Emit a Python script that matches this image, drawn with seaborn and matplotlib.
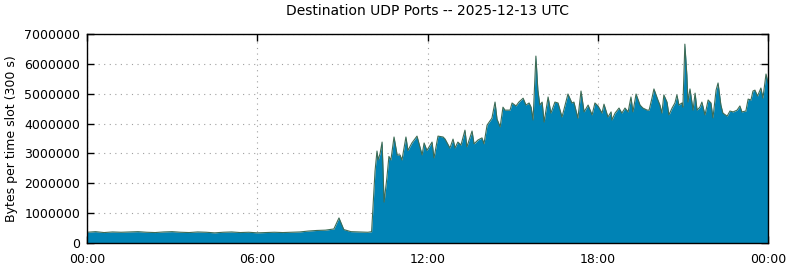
import matplotlib
matplotlib.use("Agg")
import matplotlib.pyplot as plt
import seaborn as sns
import numpy as np
import pandas as pd

# time of slot (hours since 00:00 UTC)
hours = [0.0, 0.3, 0.6, 0.9, 1.2, 1.5, 1.8, 2.1, 2.4, 2.7, 3.0, 3.3, 3.6, 3.9, 4.2, 4.5,
         4.8, 5.1, 5.4, 5.7, 6.0, 6.3, 6.6, 6.9, 7.2, 7.5, 7.8, 8.1, 8.4, 8.7, 8.88, 9.05,
         9.3, 9.6, 9.9, 10.03, 10.08, 10.15, 10.22, 10.26, 10.33, 10.40, 10.47, 10.57, 10.64,
         10.71, 10.82, 10.93, 11.03, 11.10, 11.24, 11.31, 11.45, 11.63, 11.81, 11.88, 11.98,
         12.16, 12.23, 12.37, 12.55, 12.62, 12.79, 12.90, 12.97, 13.07, 13.18, 13.32, 13.39,
         13.57, 13.64, 13.78, 13.92, 13.99, 14.10, 14.27, 14.38, 14.45, 14.56, 14.66, 14.73,
         14.91, 14.98, 15.12, 15.22, 15.37, 15.47, 15.58, 15.65, 15.72, 15.82, 15.89, 15.96,
         16.04, 16.11, 16.25, 16.35, 16.49, 16.60, 16.74, 16.95, 17.09, 17.16, 17.30, 17.41,
         17.52, 17.66, 17.80, 17.90, 18.01, 18.15, 18.22, 18.36, 18.47, 18.50, 18.61, 18.75,
         18.85, 18.96, 19.07, 19.17, 19.24, 19.35, 19.49, 19.59, 19.74, 19.81, 19.91, 19.98,
         20.12, 20.19, 20.26, 20.33, 20.44, 20.51, 20.62, 20.72, 20.79, 20.86, 20.97, 21.00,
         21.07, 21.14, 21.18, 21.25, 21.36, 21.43, 21.50, 21.60, 21.67, 21.78, 21.89, 21.99,
         22.06, 22.17, 22.24, 22.34, 22.41, 22.56, 22.66, 22.77, 22.91, 23.01, 23.08, 23.22,
         23.30, 23.40, 23.47, 23.54, 23.63, 23.75, 23.82, 23.93, 24.00]

# bytes per 300 s slot, in millions
bytes_millions = [0.36, 0.38, 0.35, 0.37, 0.36, 0.37, 0.38, 0.36, 0.35, 0.37, 0.38, 0.36, 0.35, 0.37, 0.36, 0.34,
                  0.36, 0.37, 0.35, 0.36, 0.34, 0.35, 0.36, 0.35, 0.36, 0.37, 0.40, 0.42, 0.43, 0.47, 0.84, 0.45,
                  0.38, 0.37, 0.36, 0.38, 1.20, 2.40, 3.08, 2.78, 3.00, 3.38, 1.37, 2.20, 2.90,
                  2.78, 3.55, 2.95, 2.95, 2.78, 3.55, 3.10, 3.35, 3.58, 2.95, 3.35, 3.10,
                  3.38, 2.85, 3.58, 3.55, 3.48, 3.18, 3.48, 3.18, 3.38, 3.28, 3.78, 3.22,
                  3.75, 3.32, 3.45, 3.52, 3.32, 3.95, 4.18, 4.72, 4.15, 3.89, 4.55, 4.45,
                  4.45, 4.69, 4.59, 4.72, 4.85, 4.62, 4.69, 4.55, 4.12, 6.26, 5.12, 4.62,
                  4.72, 4.05, 4.89, 4.35, 4.72, 4.69, 4.22, 4.99, 4.69, 4.72, 4.18, 5.09,
                  4.39, 4.62, 4.29, 4.69, 4.59, 4.35, 4.65, 4.22, 4.39, 4.12, 4.35, 4.52,
                  4.35, 4.52, 4.39, 4.89, 4.39, 4.99, 4.62, 4.52, 4.45, 4.45, 4.85, 5.16,
                  4.79, 4.62, 4.35, 4.96, 4.72, 4.29, 4.52, 4.69, 4.96, 4.62, 4.69, 4.55,
                  6.66, 5.63, 4.72, 5.16, 4.45, 5.02, 4.45, 4.55, 4.72, 4.29, 4.79, 4.69,
                  4.19, 5.12, 5.36, 4.62, 4.35, 4.25, 4.42, 4.39, 4.45, 4.59, 4.39, 4.42,
                  4.82, 4.79, 5.09, 5.12, 4.92, 5.19, 4.85, 5.66, 5.36]

x_ticks = [0, 6, 12, 18, 24]
x_tick_labels = ["00:00", "06:00", "12:00", "18:00", "00:00"]
y_ticks = [0, 1000000, 2000000, 3000000, 4000000, 5000000, 6000000, 7000000]

df = pd.DataFrame({"hour": hours, "bytes": np.array(bytes_millions) * 1e6})

sns.set_theme(style="white")
plt.rcParams["font.family"] = ["DejaVu Sans"]

fig = plt.figure(figsize=(7.9, 2.67), dpi=100)
ax = fig.add_axes([87 / 790, 24 / 267, 681 / 790, 209 / 267])

ax.fill_between(df["hour"], 0, df["bytes"], color="#0083b5", linewidth=0, zorder=2)
sns.lineplot(data=df, x="hour", y="bytes", ax=ax, color="#3d6b55", linewidth=0.8, zorder=3)

ax.set_xlim(0, 24)
ax.set_ylim(0, 7000000)
ax.set_xticks(x_ticks)
ax.set_xticklabels(x_tick_labels)
ax.set_yticks(y_ticks)
ax.set_yticklabels([str(v) for v in y_ticks])

ax.grid(True, linestyle=(0, (1, 4)), color="#a0a0a0", linewidth=0.8, zorder=1)
ax.set_axisbelow(True)
for s in ax.spines.values():
    s.set_visible(True)
    s.set_color("black")
    s.set_linewidth(1.0)
    s.set_zorder(5)

ax.tick_params(axis="both", which="major", direction="in", length=5, width=1,
               top=True, right=True, bottom=True, left=True, labelsize=9, colors="black")
ax.tick_params(axis="x", pad=7)
ax.tick_params(axis="y", pad=5)

ax.set_xlabel("")
ax.set_ylabel("Bytes per time slot (300 s)", fontsize=9, color="black", labelpad=4)
fig.suptitle("Destination UDP Ports -- 2025-12-13 UTC", fontsize=10, x=428 / 790, y=0.985,
             color="black")

fig.savefig("out.png", dpi=100)
